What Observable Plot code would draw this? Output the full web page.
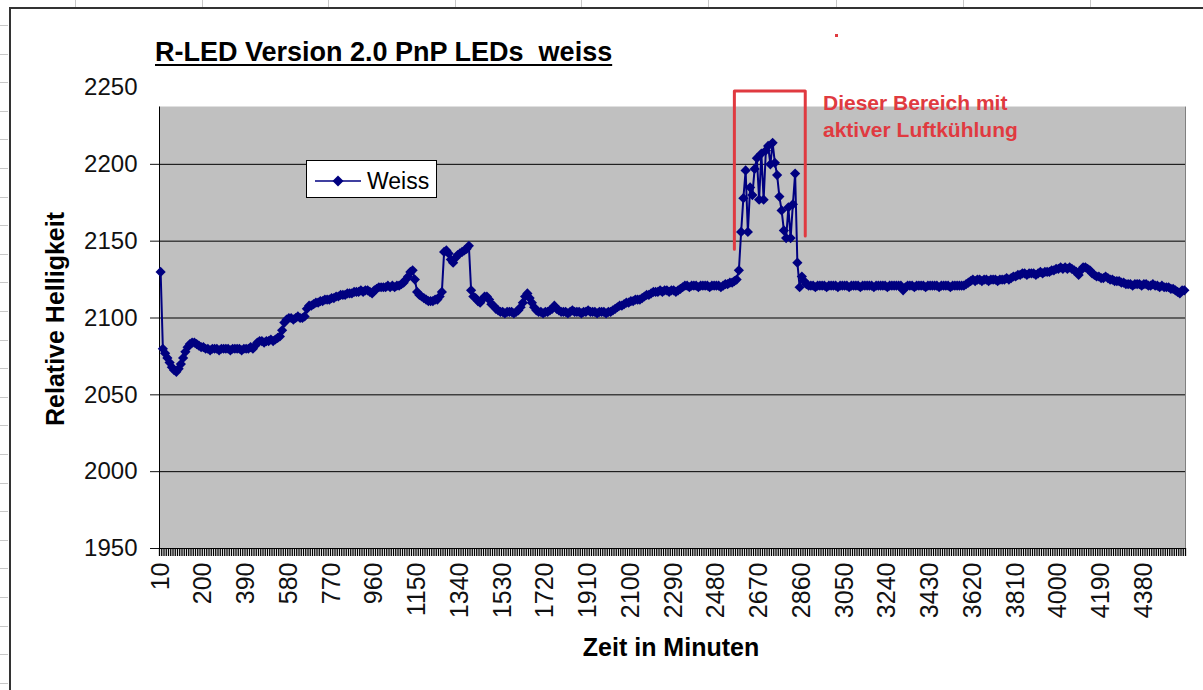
<!DOCTYPE html>
<html><head><meta charset="utf-8">
<script src="https://cdn.jsdelivr.net/npm/d3@7"></script>
<script src="https://cdn.jsdelivr.net/npm/@observablehq/plot@0.6"></script>
<style>
body{margin:0;background:#fff;font-family:"Liberation Sans",Arial,sans-serif;}
#wrap{position:relative;width:1203px;height:690px;overflow:hidden;background:#fff;}
#chart{position:absolute;left:0;top:0;}
.abs{position:absolute;white-space:pre;line-height:1;}
</style></head><body>
<div id="wrap">
  <div id="chart"></div>
</div>
<script>
// ---- data ----
const minutes = d3.range(10, 4561, 10); // categories 10 ... 4560 (every 10 minutes)
const weiss = [
 2130,2080,2077,2074,2071,2068,2066,2065,2067,2070,2074,2078,2081,2083,2084,2084,2083,2082,2081,2081,
 2080,2080,2079,2080,2080,2080,2079,2080,2080,2080,2080,2079,2080,2080,2080,2080,2079,2080,2080,2080,2081,2080,
 2082,2084,2085,2085,2084,2085,2085,2086,2085,2086,2087,2088,
 2092,2097,2099,2100,2100,2099,2100,2101,2100,2100,2101,
 2106,2108,2108,2109,2110,2110,2111,2111,2112,2112,2112,2113,2113,2114,2114,2115,2115,2115,2116,2116,
 2116,2117,2117,2117,2118,2117,2118,2118,2117,2116,2118,2119,2120,2120,2120,
 2120,2121,2120,2121,2120,2121,2121,2122,2123,2125,2127,2130,2131,
 2125,2117,2115,2114,2113,2112,2111,2111,2111,2112,2112,2114,2117,2143,
 2144,2142,2138,2136,2139,2141,2142,2143,2144,2145,2147,2118,
 2114,2113,2111,2110,2112,2114,2114,2112,2109,2108,2106,2105,
 2104,2104,2103,2104,2104,2104,2103,2104,2105,
 2107,2110,2114,2116,2113,2110,2107,2105,
 2104,2104,2103,2104,2104,2105,2106,2108,2106,2105,2104,2104,2104,2103,2104,2105,2104,2104,2104,2103,2104,2104,2105,2104,2104,2104,2103,2104,2104,2104,2103,2104,2104,
 2105,2106,2107,2108,2108,2109,2110,2110,2111,2111,2112,2112,2112,2113,2114,2115,2115,2116,2117,
 2117,2117,2118,2117,2118,2118,2117,2118,2118,2117,2118,2119,2120,
 2121,2121,2120,2121,2121,2121,2120,2121,2121,2121,2121,2120,2121,2121,2121,2121,2120,2121,2122,2122,2123,
 2123,2124,2125,2131,
 2156,2178,2196,2156,2185,2180,2197,2204,2177,2207,2177,2209,2212,2200,2214,2201,2193,2179,2170,2157,2152,2172,2152,2174,2194,2136,2120,2127,2124,2122,
 2121,2121,2121,2120,2121,2121,2121,2121,2120,
 2121,2121,2121,2121,2120,2121,2121,2121,2121,
 2120,2121,2121,2121,2121,2120,2121,2121,2121,
 2121,2121,2120,2121,2121,2121,2121,2121,2120,
 2121,2121,2121,2121,2121,2121,2118,2120,2121,
 2121,2121,2120,2121,2121,2121,2121,2120,2121,
 2121,2121,2121,2121,2120,2121,2121,2121,2121,
 2120,2121,2121,2121,2121,2121,2121,2122,2123,
 2124,2125,2124,2125,2125,2124,2125,2125,2124,2125,2125,2125,2124,2125,2125,2125,2126,2125,2126,2127,2127,
 2128,2128,2129,2129,2128,2129,2129,2129,2128,2129,2130,2129,2130,2130,2130,2131,2131,
 2132,2132,2133,2132,2133,2132,2133,2132,2131,2130,2128,2131,2133,2133,2132,2131,
 2129,2128,2127,2127,2126,2126,2127,2126,2125,2125,2124,2124,2124,2123,2123,
 2122,2122,2122,2121,2122,2122,2122,2121,2122,2122,2121,2121,2122,2121,2121,2120,2121,2120,2120,2120,2119,
 2119,2118,2117,2116,2118,2118
];
const xTickLabels = [10,200,390,580,770,960,1150,1340,1530,1720,1910,2100,2290,2480,2670,2860,3050,3240,3430,3620,3810,4000,4190,4380];
const yTickLabels = [1950,2000,2050,2100,2150,2200,2250];
const gridValues = [2000,2050,2100,2150,2200];
const categoryBounds = d3.range(5, 4566, 10);
const plotTopValue = 2237.3;
const bracket = [{x:2560,y:2144.8},{x:2560,y:2247.7},{x:2875,y:2247.7},{x:2875,y:2153.3}];

if (weiss.length !== minutes.length) console.error("length mismatch", weiss.length, minutes.length);
const data = minutes.map((m, i) => ({m, v: weiss[i]}));

const navy = "#000080";
const red = "#e03a40";

const chart = Plot.plot({
  width: 1203, height: 690,
  marginLeft: 159, marginRight: 18, marginTop: 87, marginBottom: 142,
  x: {domain: [5, 4565]},
  y: {domain: [1950, 2250]},
  style: {fontFamily: "'Liberation Sans', Arial, sans-serif", fontSize: "24px", color: "#111", background: "transparent", overflow: "visible"},
  marks: [
    Plot.rect([{x1: 5, x2: 4565, y1: 1950, y2: plotTopValue}], {x1: "x1", x2: "x2", y1: "y1", y2: "y2", fill: "#c0c0c0"}),
    Plot.ruleY(gridValues, {stroke: "#000", strokeWidth: 1}),
    Plot.ruleX([4565], {y1: 1950, y2: plotTopValue, stroke: "#808080"}),
    Plot.ruleX([5], {y1: 1950, y2: plotTopValue, stroke: "#000"}),
    Plot.ruleY([1950], {stroke: "#000"}),
    Plot.axisY(yTickLabels.slice(0, 6), {tickSize: 9, tickFormat: () => "", label: null}),
    Plot.axisY(yTickLabels, {tickSize: 0, tickPadding: 22, label: null, fontSize: 24, tickFormat: d => String(d)}),
    Plot.axisX(categoryBounds, {tickSize: 8, tickFormat: () => "", label: null, strokeWidth: 1.3, stroke: "#000"}),
    Plot.axisX(xTickLabels, {tickSize: 0, tickPadding: 14, tickRotate: -90, label: null, fontSize: 25, tickFormat: d => String(d)}),
    Plot.line(data, {x: "m", y: "v", stroke: navy, strokeWidth: 2}),
    Plot.dot(data, {x: "m", y: "v", symbol: "diamond2", r: 4.6, fill: navy, stroke: "none"}),
    Plot.line(bracket, {x: "x", y: "y", stroke: red, strokeWidth: 3, curve: "linear"})
  ]
});
document.getElementById("chart").appendChild(chart);

// ---- overlay texts ----
const wrap = document.getElementById("wrap");
function add(html, css) {
  const d = document.createElement("div");
  d.className = "abs";
  d.innerHTML = html;
  Object.assign(d.style, css);
  wrap.appendChild(d);
  return d;
}
// spreadsheet frame lines
add("", {left: "10px", top: "7px", width: "1193px", height: "0", borderTop: "2px solid #333"});
add("", {left: "9px", top: "7px", width: "0", height: "683px", borderLeft: "2px solid #333"});
[75, 202, 328, 455, 581, 708, 836, 963, 1090].forEach(x => add("", {left: x + "px", top: "0px", width: "1px", height: "7px", background: "#c8c8c8"}));
for (let y = 25; y < 690; y += 28.6) add("", {left: "0px", top: y + "px", width: "8px", height: "1px", background: "#c8c8c8"});
add("", {left: "835px", top: "34px", width: "3px", height: "3px", background: red});

add("R-LED Version 2.0 PnP LEDs  weiss", {left: "155px", top: "39px", fontSize: "27px", fontWeight: "bold", textDecoration: "underline", textDecorationThickness: "2px", textUnderlineOffset: "3px"});
add("Relative Helligkeit", {left: "55px", top: "319px", fontSize: "25px", fontWeight: "bold", transform: "translate(-50%,-50%) rotate(-90deg)"});
add("Zeit in Minuten", {left: "671px", top: "635px", fontSize: "25px", fontWeight: "bold", transform: "translateX(-50%)"});
add("Dieser Bereich mit", {left: "823px", top: "92px", fontSize: "21px", fontWeight: "bold", color: red});
add("aktiver Luftkühlung", {left: "823px", top: "119px", fontSize: "21px", fontWeight: "bold", color: red});

// legend
add(`<svg width="48" height="14" style="position:absolute;left:8px;top:13px"><line x1="0" y1="7" x2="46" y2="7" stroke="${navy}" stroke-width="1.5"/><path d="M23,1.5 L28.5,7 L23,12.5 L17.5,7 Z" fill="${navy}"/></svg><span style="position:absolute;left:60px;top:8.5px;font-size:23px">Weiss</span>`,
  {left: "306px", top: "160px", width: "129px", height: "36px", border: "1px solid #000", background: "#fff"});
</script>
</body></html>
